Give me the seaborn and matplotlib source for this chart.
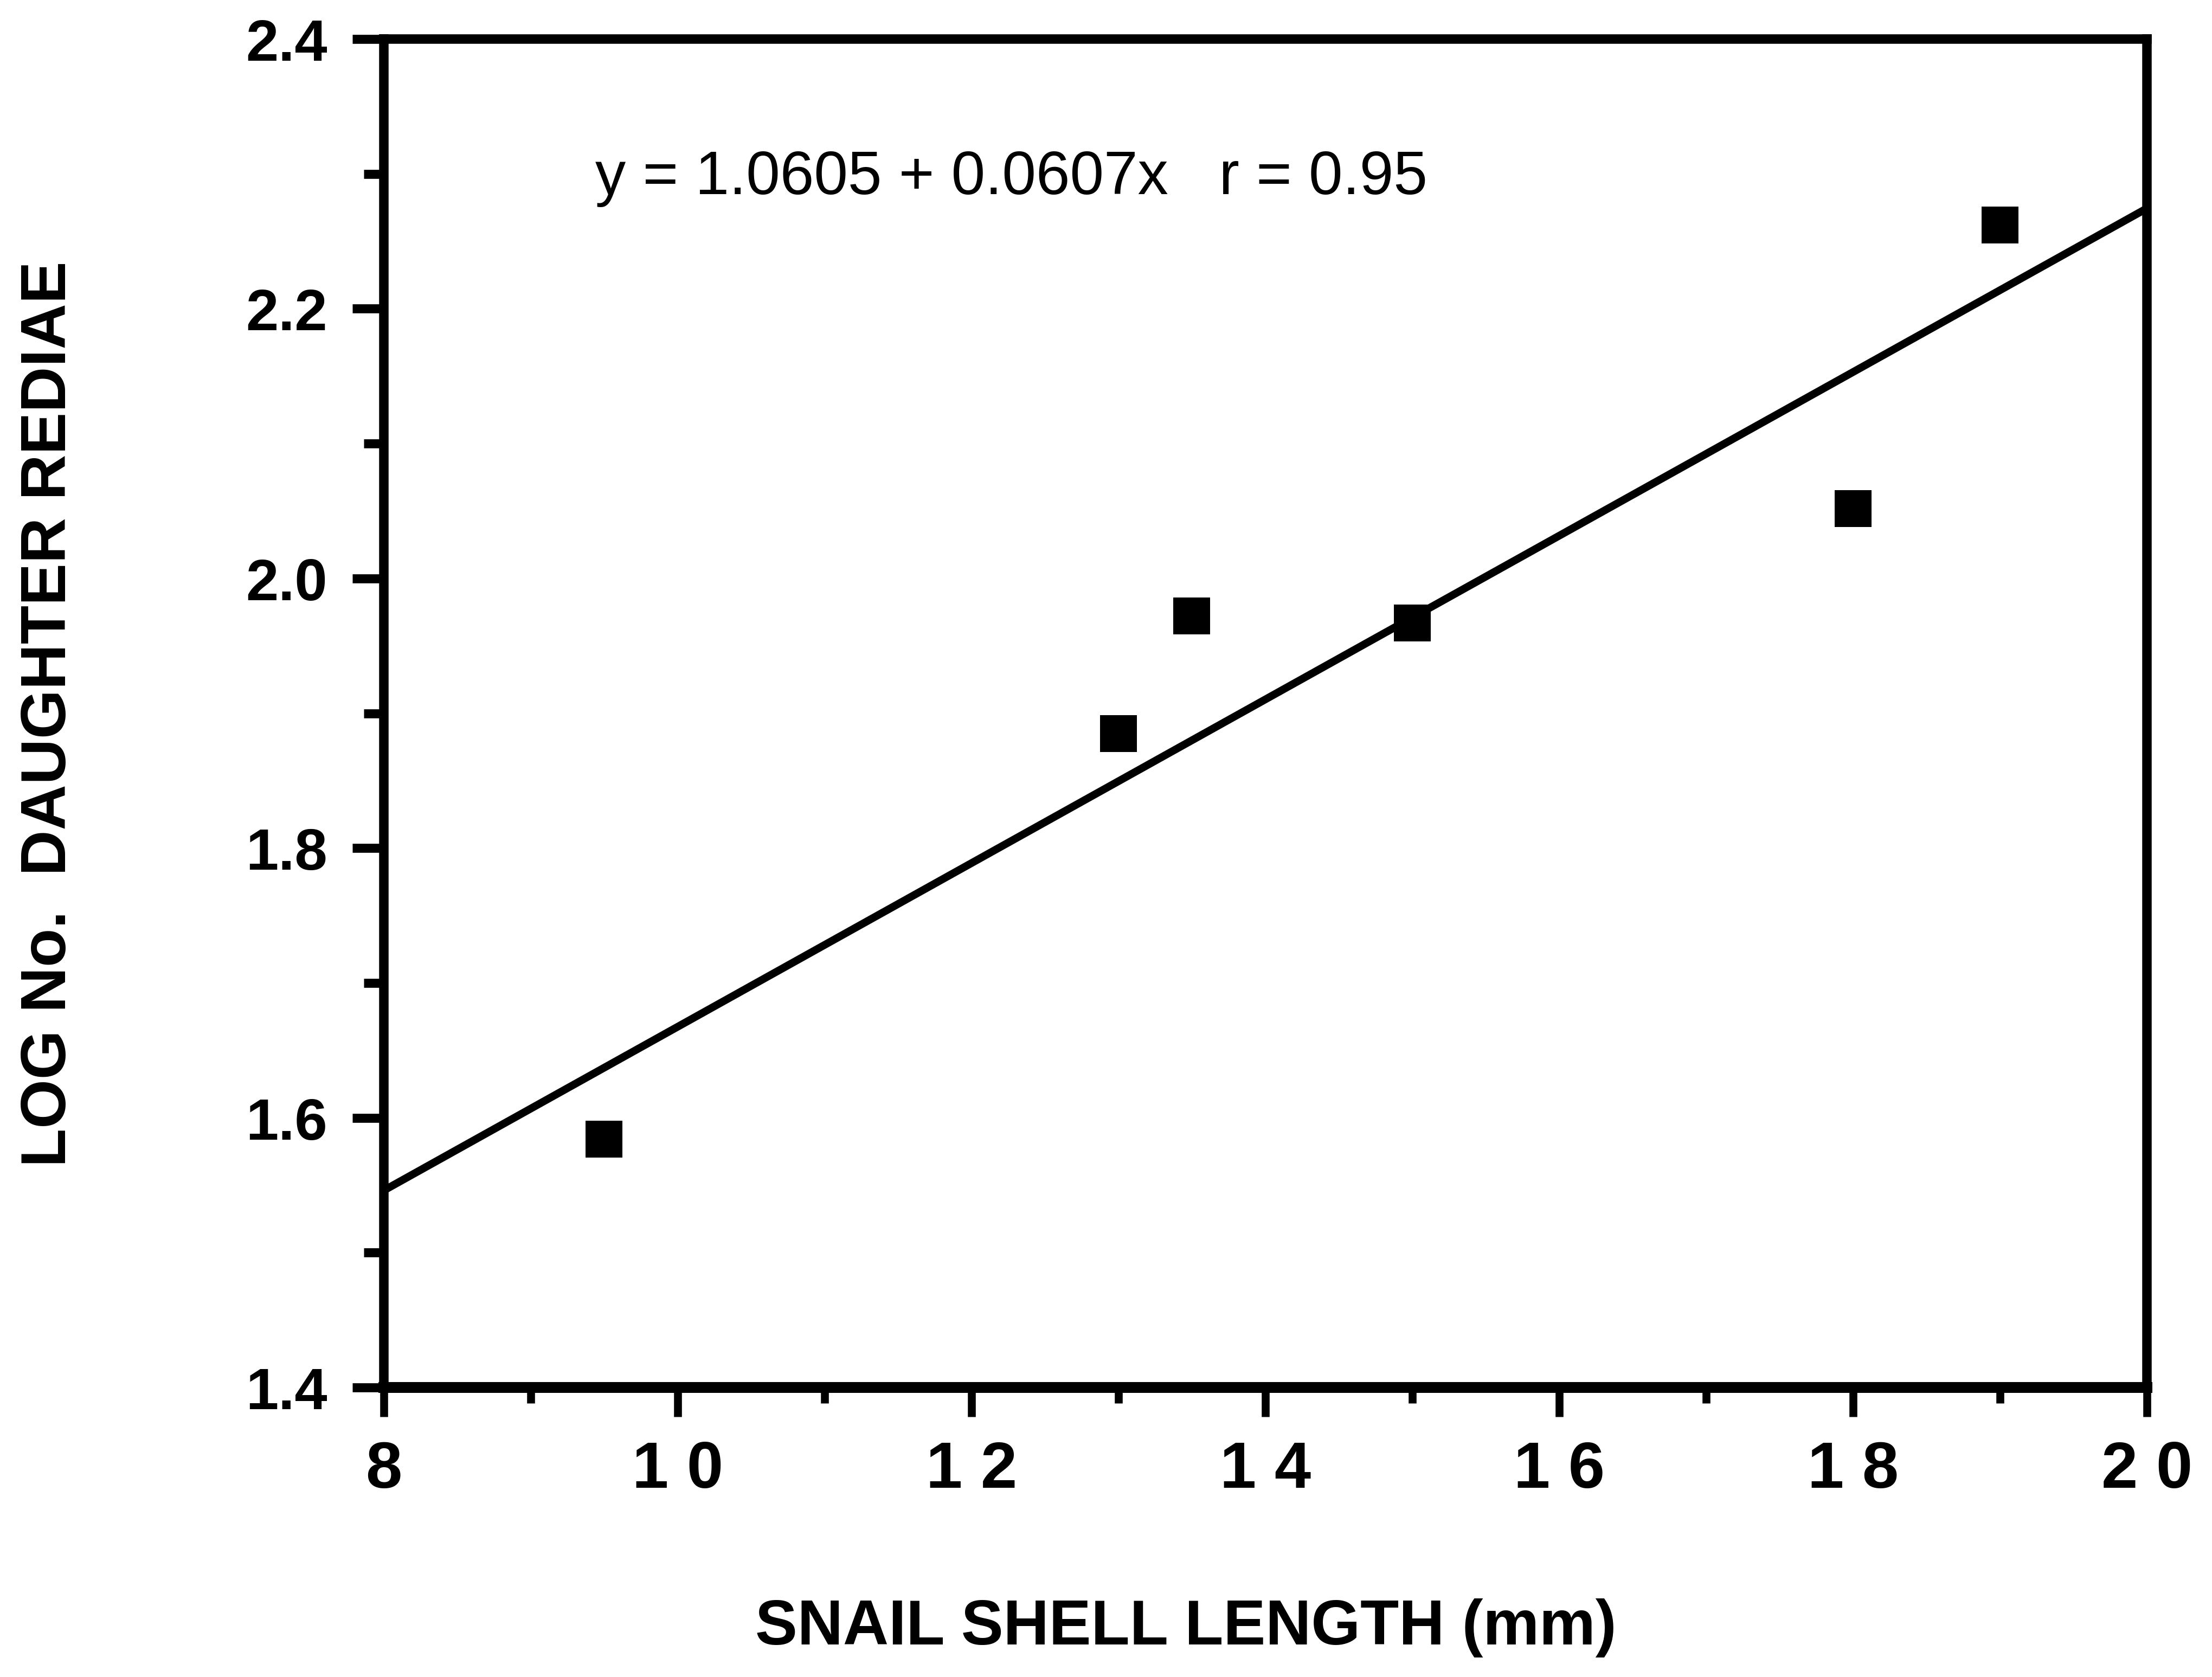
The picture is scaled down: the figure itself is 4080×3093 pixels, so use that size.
import numpy as np
import pandas as pd
import matplotlib
matplotlib.use("Agg")
import matplotlib.pyplot as plt
import seaborn as sns
from matplotlib.ticker import MultipleLocator

# data
shell_length = [9.5, 13.0, 13.5, 15.0, 18.0, 19.0]
log_rediae = [1.584, 1.885, 1.972, 1.967, 2.052, 2.262]

# fitted line as printed on the chart
fit_intercept = 1.0605
fit_slope = 0.0607
fit_r = 0.95

x_ticks = [8, 10, 12, 14, 16, 18, 20]
x_tick_labels = ["8", "1 0", "1 2", "1 4", "1 6", "1 8", "2 0"]
y_ticks = [1.4, 1.6, 1.8, 2.0, 2.2, 2.4]
y_tick_labels = ["1.4", "1.6", "1.8", "2.0", "2.2", "2.4"]

sns.set_style("ticks", rc={"axes.edgecolor": "black", "text.color": "black",
                           "axes.labelcolor": "black", "xtick.color": "black",
                           "ytick.color": "black"})
plt.rcParams["font.family"] = ["Liberation Sans", "DejaVu Sans"]

fig = plt.figure(figsize=(13.6, 10.313), dpi=300)
ax = fig.add_axes([0.1735, 0.1726, 0.7971, 0.8038])
ax.set_xlim(8, 20)
ax.set_ylim(1.4, 2.4)

df = pd.DataFrame({"x": shell_length, "y": log_rediae})
sns.scatterplot(data=df, x="x", y="y", ax=ax, marker="s", s=260,
                color="black", edgecolor="black", linewidth=0, zorder=3)

line_df = pd.DataFrame({"x": [8, 20]})
line_df["y"] = fit_intercept + fit_slope * line_df["x"]
sns.lineplot(data=line_df, x="x", y="y", ax=ax, color="black", linewidth=3.4)

ax.text(9.44, 2.297, f"y = {fit_intercept:.4f} + {fit_slope:.4f}x   r = {fit_r:.2f}",
        fontsize=27, va="center", ha="left")

ax.set_xticks(x_ticks)
ax.set_xticklabels(x_tick_labels, fontsize=29, fontweight="bold")
ax.set_yticks(y_ticks)
ax.set_yticklabels(y_tick_labels, fontsize=26, fontweight="bold")
ax.xaxis.set_minor_locator(MultipleLocator(1))
ax.yaxis.set_minor_locator(MultipleLocator(0.1))
ax.tick_params(axis="x", which="major", length=13, width=3.5, pad=10)
ax.tick_params(axis="x", which="minor", length=7, width=3.5)
ax.tick_params(axis="y", which="major", length=14, width=4, pad=11)
ax.tick_params(axis="y", which="minor", length=9, width=4)

for side in ["left", "right", "top"]:
    ax.spines[side].set_linewidth(4.2)
ax.spines["bottom"].set_linewidth(4.8)

ax.set_xlabel("SNAIL SHELL LENGTH (mm)", fontsize=28, fontweight="bold")
ax.xaxis.set_label_coords(0.455, -0.178)
ax.xaxis.label.set_va("center")
ax.set_ylabel("LOG No.  DAUGHTER REDIAE", fontsize=28, fontweight="bold", labelpad=74)

fig.savefig("out.png", dpi=300, facecolor="white")
